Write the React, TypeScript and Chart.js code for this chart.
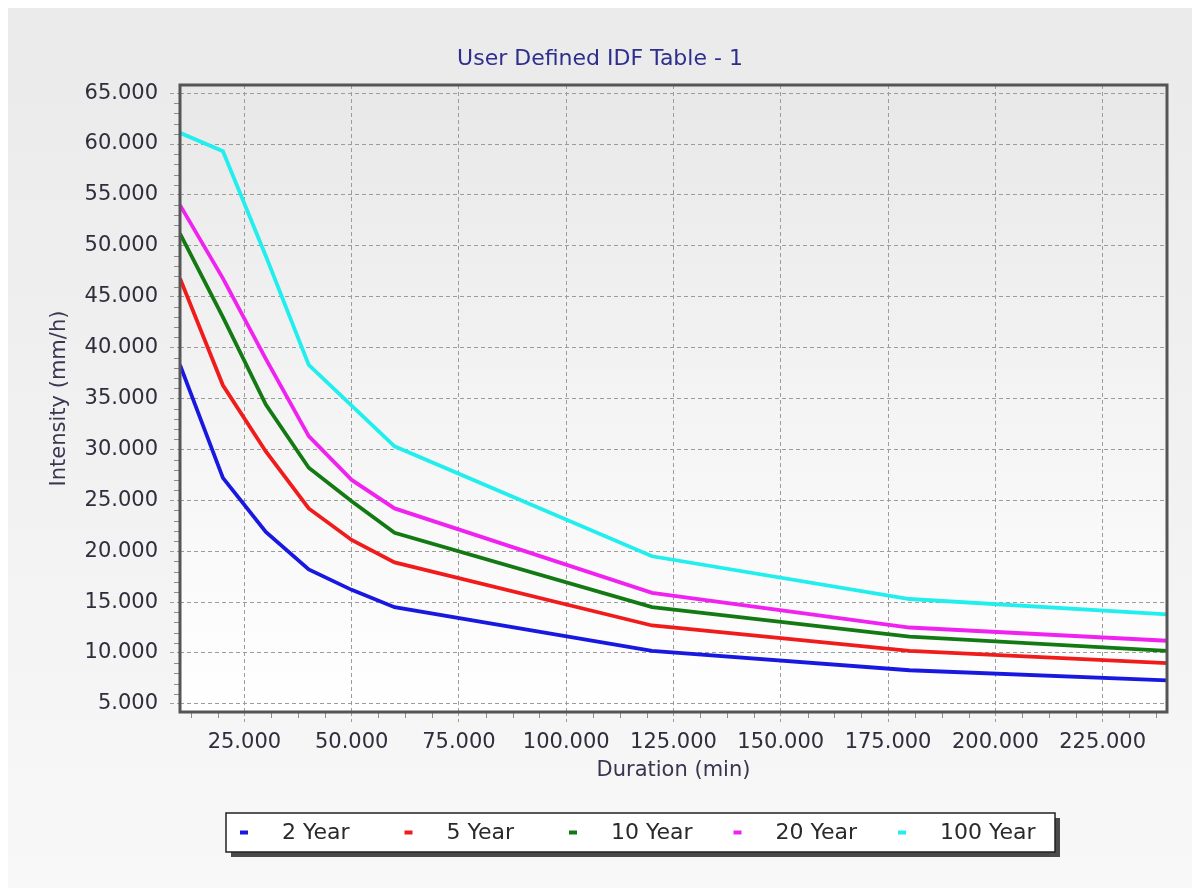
import React, { useEffect, useRef } from "react";
import { Chart, registerables } from "chart.js";

Chart.register(...registerables);

// ---- data ----
const durations = [10, 20, 30, 40, 50, 60, 120, 180, 240];
const year2 = [38.3, 27.2, 21.9, 18.2, 16.2, 14.5, 10.2, 8.3, 7.3];
const year5 = [46.8, 36.3, 29.8, 24.2, 21.1, 18.9, 12.7, 10.2, 9.0];
const year10 = [51.2, 43.0, 34.4, 28.2, 24.9, 21.8, 14.5, 11.6, 10.2];
const year20 = [54.0, 46.8, 38.9, 31.3, 27.0, 24.2, 15.9, 12.5, 11.2];
const year100 = [61.1, 59.3, 49.0, 38.3, 34.3, 30.3, 19.5, 15.3, 13.8];

const seriesNames = ["2 Year", "5 Year", "10 Year", "20 Year", "100 Year"];
const seriesValues = [year2, year5, year10, year20, year100];
const seriesColors = ["#1818e0", "#f01c1c", "#137a13", "#f022f0", "#22eeee"];

const yTicks = [5, 10, 15, 20, 25, 30, 35, 40, 45, 50, 55, 60, 65];
const xTicks = [25, 50, 75, 100, 125, 150, 175, 200, 225];

const chartTitle = "User Defined IDF Table - 1";
const xTitle = "Duration (min)";
const yTitle = "Intensity (mm/h)";

const FONT = "'DejaVu Sans', Verdana, sans-serif";
const TICK_COLOR = "#2e2e3c";
const GRID_COLOR = "#9c9c9c";

const decorPlugin = {
  id: "decor",
  beforeDraw(chart: any) {
    const { ctx, width, height, chartArea: a } = chart;
    ctx.save();
    let g = ctx.createLinearGradient(0, 0, 0, height);
    g.addColorStop(0, "#eaeaea");
    g.addColorStop(1, "#f8f8f8");
    ctx.fillStyle = g;
    ctx.fillRect(0, 0, width, height);
    g = ctx.createLinearGradient(0, a.top, 0, a.bottom);
    g.addColorStop(0, "#e8e8e8");
    g.addColorStop(1, "#ffffff");
    ctx.fillStyle = g;
    ctx.fillRect(a.left, a.top, a.right - a.left, a.bottom - a.top);
    ctx.restore();
  },
  afterDraw(chart: any) {
    const { ctx, chartArea: a, scales } = chart;
    const xs = scales.x;
    const ys = scales.y;
    ctx.save();
    // minor ticks
    ctx.strokeStyle = "#8c8c8c";
    ctx.lineWidth = 1;
    ctx.beginPath();
    for (let v = 5; v <= 65; v += 1) {
      if (v % 5 === 0) continue;
      const y = Math.round(ys.getPixelForValue(v)) + 0.5;
      ctx.moveTo(a.left - 6, y);
      ctx.lineTo(a.left, y);
    }
    for (let v = 12.5; v < 240; v += 6.25) {
      if (v % 25 === 0) continue;
      const x = Math.round(xs.getPixelForValue(v)) + 0.5;
      ctx.moveTo(x, a.bottom);
      ctx.lineTo(x, a.bottom + 6);
    }
    ctx.stroke();

    // frame
    ctx.strokeStyle = "#555555";
    ctx.lineWidth = 3;
    ctx.strokeRect(a.left, a.top, a.right - a.left, a.bottom - a.top);

    // title
    ctx.fillStyle = "#2e2e8c";
    ctx.font = `22px ${FONT}`;
    ctx.textAlign = "center";
    ctx.textBaseline = "alphabetic";
    ctx.fillText(chartTitle, chart.width / 2, 57);

    // legend
    const bx = 218, by = 805, bw = 829, bh = 39;
    ctx.fillStyle = "#4a4a4a";
    ctx.fillRect(bx + 5, by + 5, bw, bh);
    ctx.fillStyle = "#ffffff";
    ctx.fillRect(bx, by, bw, bh);
    ctx.strokeStyle = "#222222";
    ctx.lineWidth = 1.5;
    ctx.strokeRect(bx, by, bw, bh);
    ctx.font = `22px ${FONT}`;
    ctx.textAlign = "left";
    ctx.textBaseline = "middle";
    const cy = by + bh / 2;
    seriesNames.forEach((name, i) => {
      const mx = 236 + i * 164.5;
      ctx.fillStyle = seriesColors[i];
      ctx.fillRect(mx - 4, cy - 2, 8, 4);
      ctx.fillStyle = "#2a2a2a";
      ctx.fillText(name, mx + 38, cy + 1);
    });
    ctx.restore();
  },
};

export default function App() {
  const ref = useRef<HTMLCanvasElement | null>(null);

  useEffect(() => {
    if (!ref.current) return;
    const chart = new Chart(ref.current, {
      type: "line",
      data: {
        labels: durations,
        datasets: seriesNames.map((name, i) => ({
          label: name,
          data: durations.map((d, j) => ({ x: d, y: seriesValues[i][j] })),
          borderColor: seriesColors[i],
          backgroundColor: seriesColors[i],
          borderWidth: 3.8,
          pointRadius: 0,
          tension: 0,
          fill: false,
        })),
      },
      options: {
        responsive: false,
        animation: false,
        layout: { padding: { top: 77, left: 0, right: 25, bottom: 101 } },
        plugins: {
          legend: { display: false },
          title: { display: false },
          tooltip: { enabled: false },
        },
        scales: {
          x: {
            type: "linear",
            min: 10,
            max: 240,
            afterBuildTicks: (s: any) => {
              s.ticks = xTicks.map((v) => ({ value: v }));
            },
            afterFit: (s: any) => {
              s.height = 75;
            },
            ticks: {
              callback: (v: any) => Number(v).toFixed(3),
              font: { family: FONT, size: 21 },
              color: TICK_COLOR,
              padding: 8,
              maxRotation: 0,
              autoSkip: false,
            },
            grid: {
              color: GRID_COLOR,
              tickColor: GRID_COLOR,
              tickLength: 10,
              tickBorderDash: [4, 3],
              lineWidth: 1,
            },
            border: { display: false, dash: [4, 3] },
            title: {
              display: true,
              text: xTitle,
              font: { family: FONT, size: 21 },
              color: "#3a3550",
              padding: { top: 0, bottom: 4 },
            },
          },
          y: {
            type: "linear",
            min: 4.2,
            max: 65.8,
            afterBuildTicks: (s: any) => {
              s.ticks = yTicks.map((v) => ({ value: v }));
            },
            afterFit: (s: any) => {
              s.width = 172;
            },
            ticks: {
              callback: (v: any) => Number(v).toFixed(3),
              font: { family: FONT, size: 21 },
              color: TICK_COLOR,
              padding: 12,
              autoSkip: false,
            },
            grid: {
              color: GRID_COLOR,
              tickColor: GRID_COLOR,
              tickLength: 10,
              tickBorderDash: [4, 3],
              lineWidth: 1,
            },
            border: { display: false, dash: [4, 3] },
            title: {
              display: true,
              text: yTitle,
              font: { family: FONT, size: 21 },
              color: "#3a3550",
              padding: { top: 39, bottom: 4 },
            },
          },
        },
      } as any,
      plugins: [decorPlugin],
    });
    return () => chart.destroy();
  }, []);

  return (
    <div style={{ position: "fixed", left: 8, top: 8, width: 1184, height: 880 }}>
      <canvas ref={ref} width={1184} height={880} style={{ display: "block" }} />
    </div>
  );
}
